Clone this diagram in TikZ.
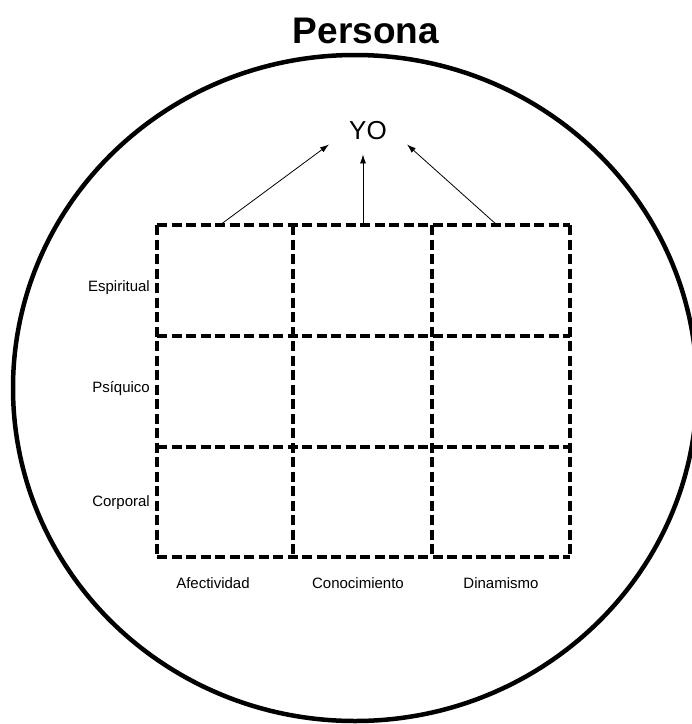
\documentclass[tikz,border=0pt]{standalone}
\usepackage{fontspec}
\setmainfont{Liberation Sans}
\usetikzlibrary{arrows.meta}
\begin{document}
\begin{tikzpicture}[x=1pt,y=-1pt,
		rejilla/.style={line width=3.3pt,dash pattern=on 10pt off 4.5pt},
		flecha/.style={line width=0.8pt,-{Latex[length=9pt,width=6pt]}},
		etiq/.style={inner sep=0pt,font=\fontsize{15}{17}\selectfont}]
		\useasboundingbox (0,0) rectangle (692,724);
		\clip (0,0) rectangle (692,724);
		% Persona
		\draw[line width=4.5pt] (355,388) ellipse [x radius=342pt, y radius=333pt];
		\node[font=\bfseries\fontsize{37}{40}\selectfont] (persona) at (366,31) {Persona};
		\node[font=\fontsize{26}{28}\selectfont,inner xsep=20pt,inner ysep=14pt] (yo) at (368,131) {YO};
		% Rejilla 3 x 3
		\foreach \x in {157,293,432,570}
			\draw[rejilla] (\x,225) -- (\x,557);
		\foreach \y in {225,336,447,557}
			\draw[rejilla] (157,\y) -- (570,\y);
		\coordinate (a1) at (220,225);
		\coordinate (a2) at (363,225);
		\coordinate (a3) at (497,225);
		\draw[flecha] (a1) -- (yo.199);
		\draw[flecha] (a2) -- (a2 |- yo.south);
		\draw[flecha] (a3) -- (yo.341);
		\node[etiq,anchor=east] (esp) at (150,288) {Espiritual};
		\node[etiq,anchor=east] (psi) at (150,389) {Psíquico};
		\node[etiq,anchor=east] (cor) at (150,503) {Corporal};
		\node[etiq] (afe) at (213,583) {Afectividad};
		\node[etiq] (con) at (358,583) {Conocimiento};
		\node[etiq] (din) at (501,583) {Dinamismo};
\end{tikzpicture}
\end{document}
